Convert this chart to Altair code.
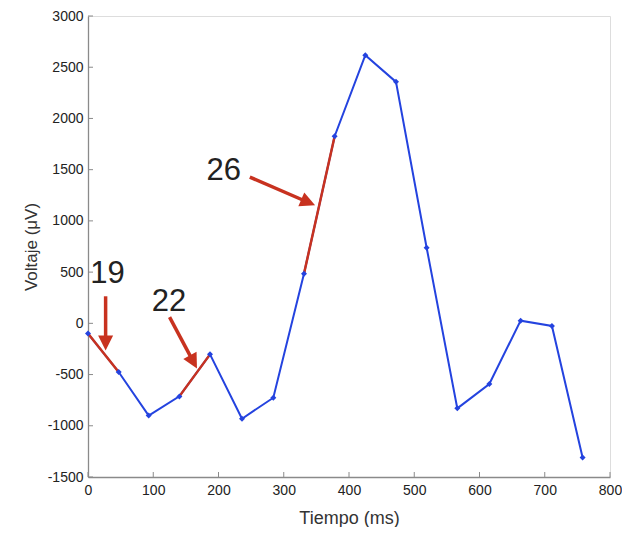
import math
import altair as alt
import pandas as pd

# ---- data ----
tiempo = [0, 47, 93, 140, 187, 236, 284, 331, 378, 425, 472, 519, 566, 615, 663, 711, 758]
voltaje = [-100, -475, -900, -713, -303, -931, -726, 485, 1826, 2617, 2357, 738, -830, -592, 26, -26, -1309]
red_pairs = [(0, 1), (3, 4), (7, 8)]

labels = ["19", "22", "26"]
label_x = [30, 124, 208]
label_y = [480, 205, 1484]
arrow_x0 = [27, 125, 248]
arrow_y0 = [264, 61, 1428]
arrow_x1 = [27, 167, 348]
arrow_y1 = [-264, -442, 1152]

x_ticks = [0, 100, 200, 300, 400, 500, 600, 700, 800]
y_ticks = [-1500, -1000, -500, 0, 500, 1000, 1500, 2000, 2500, 3000]

W, H = 522, 461
XMIN, XMAX, YMIN, YMAX = 0, 800, -1500, 3000
kx = W / (XMAX - XMIN)
ky = H / (YMAX - YMIN)

BLUE = "#2443df"
RED = "#c8321f"
FONT = "Liberation Sans"

main = pd.DataFrame({"t": tiempo, "v": voltaje})

red_rows = []
for k, (a, b) in enumerate(red_pairs):
    red_rows.append({"seg": k, "t": tiempo[a], "v": voltaje[a]})
    red_rows.append({"seg": k, "t": tiempo[b], "v": voltaje[b]})
red = pd.DataFrame(red_rows)

arr_rows = []
for i in range(len(labels)):
    dxp = (arrow_x1[i] - arrow_x0[i]) * kx
    dyp = -(arrow_y1[i] - arrow_y0[i]) * ky
    L = math.hypot(dxp, dyp)
    ux, uy = dxp / L, dyp / L
    ang = math.degrees(math.atan2(dxp, -dyp)) % 360
    back = 9
    arr_rows.append({
        "x0": arrow_x0[i], "y0": arrow_y0[i],
        "xe": arrow_x1[i] - back * ux / kx, "ye": arrow_y1[i] + back * uy / ky,
        "x1": arrow_x1[i], "y1": arrow_y1[i], "ang": ang,
        "lab": labels[i], "lx": label_x[i], "ly": label_y[i],
    })
arr = pd.DataFrame(arr_rows)

xs = alt.Scale(domain=[XMIN, XMAX], nice=False, zero=False)
ys = alt.Scale(domain=[YMIN, YMAX], nice=False, zero=False)

x_axis = alt.Axis(values=x_ticks, ticks=False, grid=False, domainColor="#8a8a8a",
                  domainWidth=1.3, labelFont=FONT, labelFontSize=14, labelColor="#222",
                  labelPadding=6, labelExpr="'' + datum.value",
                  title="Tiempo (ms)", titleFont=FONT, titleFontSize=18,
                  titleFontWeight="normal", titleColor="#333", titlePadding=12,
                  labelFlush=False)
y_axis = alt.Axis(values=y_ticks, ticks=False, grid=False, domainColor="#8a8a8a",
                  domainWidth=1.3, labelFont=FONT, labelFontSize=14, labelColor="#222",
                  labelPadding=5, labelExpr="'' + datum.value",
                  title="Voltaje  (μV)", titleFont=FONT, titleFontSize=17,
                  titleFontWeight="normal", titleColor="#333", titlePadding=7,
                  labelFlush=False)

base_line = alt.Chart(main).mark_line(color=BLUE, strokeWidth=2).encode(
    x=alt.X("t:Q", scale=xs, axis=x_axis),
    y=alt.Y("v:Q", scale=ys, axis=y_axis),
)
pts = alt.Chart(main).mark_point(shape="diamond", filled=True, color=BLUE, size=36, opacity=1).encode(
    x=alt.X("t:Q", scale=xs), y=alt.Y("v:Q", scale=ys)
)
red_line = alt.Chart(red).mark_line(color=RED, strokeWidth=2.5).encode(
    x=alt.X("t:Q", scale=xs), y=alt.Y("v:Q", scale=ys), detail="seg:N"
)

xt = alt.Chart(pd.DataFrame({"t": x_ticks})).mark_rule(color="#8a8a8a", strokeWidth=1).encode(
    x=alt.X("t:Q", scale=xs), y=alt.value(H), y2=alt.value(H - 5)
)
yt = alt.Chart(pd.DataFrame({"v": y_ticks})).mark_rule(color="#8a8a8a", strokeWidth=1).encode(
    y=alt.Y("v:Q", scale=ys), x=alt.value(0), x2=alt.value(5)
)

shaft = alt.Chart(arr).mark_rule(color=RED, strokeWidth=3.5).encode(
    x=alt.X("x0:Q", scale=xs), y=alt.Y("y0:Q", scale=ys), x2="xe:Q", y2="ye:Q"
)
head = alt.Chart(arr).mark_point(shape="M0,0L-0.5,1L0.5,1Z", filled=True, color=RED,
                                 size=900, opacity=1).encode(
    x=alt.X("x1:Q", scale=xs), y=alt.Y("y1:Q", scale=ys),
    angle=alt.Angle("ang:Q", scale=None)
)
txt = alt.Chart(arr).mark_text(font=FONT, fontSize=31, color="#222", baseline="middle",
                               align="center").encode(
    x=alt.X("lx:Q", scale=xs), y=alt.Y("ly:Q", scale=ys), text="lab:N"
)

chart = alt.layer(base_line, red_line, pts, xt, yt, shaft, head, txt).properties(
    width=W, height=H,
    autosize=alt.AutoSizeParams(type="none"),
    padding={"left": 80, "top": 8, "right": 12, "bottom": 50},
).configure_view(stroke=None).configure(background="white")

chart.save("out.html", embed_options={"renderer": "svg", "actions": False})
